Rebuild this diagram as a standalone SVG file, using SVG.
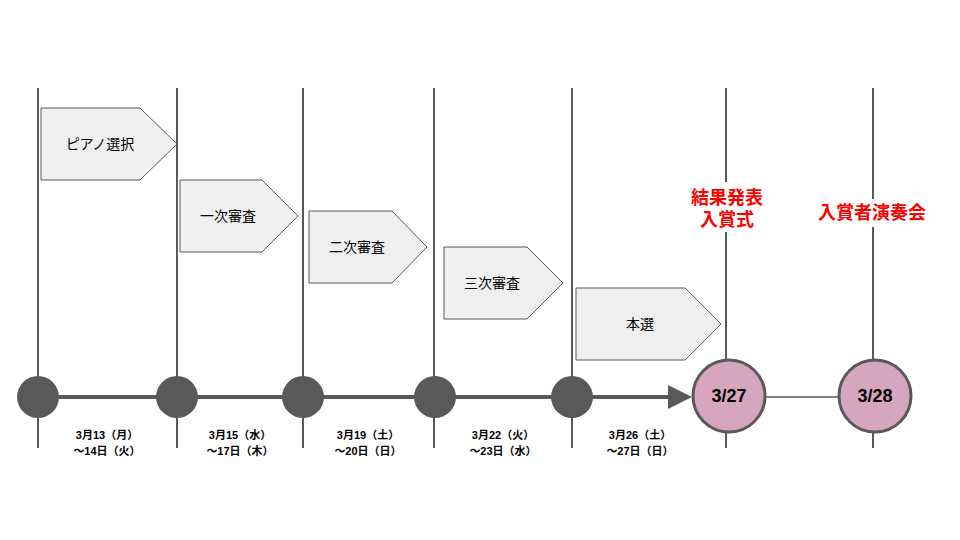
<svg xmlns="http://www.w3.org/2000/svg" width="960" height="540" viewBox="0 0 960 540">
<defs>
<style>
.vl{stroke:#595959;stroke-width:2;fill:none}
.pent{fill:#efefef;stroke:#595959;stroke-width:1}
.pt{font-family:"Liberation Sans","Noto Sans CJK JP",sans-serif;font-size:14px;fill:#000;text-anchor:middle}
.dot{fill:#595959}
.pink{fill:#d5a6bd;stroke:#595959;stroke-width:3}
.ct{font-family:"Liberation Sans","Noto Sans CJK JP",sans-serif;font-size:18px;font-weight:bold;fill:#000;text-anchor:middle}
.dt{font-family:"Liberation Sans","Noto Sans CJK JP",sans-serif;font-size:11px;font-weight:bold;fill:#000;text-anchor:middle}
.rt{font-family:"Liberation Sans","Noto Sans CJK JP",sans-serif;font-size:18px;font-weight:bold;fill:#ff0000;text-anchor:middle}
</style>
<marker id="ah" markerWidth="6" markerHeight="6" refX="5" refY="3" orient="auto" markerUnits="strokeWidth">
<path d="M0,0 L6,3 L0,6 z" fill="#595959"/>
</marker>
</defs>
<rect width="960" height="540" fill="#fff"/>
<g id="connectors">
<line class="vl" x1="38" y1="88" x2="38" y2="448"/>
<line class="vl" x1="177" y1="88" x2="177" y2="448"/>
<line class="vl" x1="303" y1="88" x2="303" y2="448"/>
<line class="vl" x1="434" y1="88" x2="434" y2="448"/>
<line class="vl" x1="572" y1="88" x2="572" y2="448"/>
<line class="vl" x1="726" y1="88" x2="726" y2="448"/>
<line class="vl" x1="873" y1="88" x2="873" y2="448"/>
<line x1="38" y1="397" x2="688" y2="397" stroke="#595959" stroke-width="4" marker-end="url(#ah)"/>
<line x1="760" y1="397" x2="840" y2="397" stroke="#595959" stroke-width="1.5"/>
</g>
<g id="phase1"><polygon class="pent" points="41,108 140,108 177,144 140,180 41,180"/><text class="pt" x="100" y="149">ピアノ選択</text></g>
<g id="phase2"><polygon class="pent" points="180,180 262,180 298,216 262,252 180,252"/><text class="pt" x="228" y="221">一次審査</text></g>
<g id="phase3"><polygon class="pent" points="309,211 392,211 427,247 392,283 309,283"/><text class="pt" x="357" y="252">二次審査</text></g>
<g id="phase4"><polygon class="pent" points="444,247 527,247 563,283 527,319 444,319"/><text class="pt" x="492" y="288">三次審査</text></g>
<g id="phase5"><polygon class="pent" points="576,288 685,288 721,324 685,360 576,360"/><text class="pt" x="640" y="329">本選</text></g>
<g id="n1"><circle class="dot" cx="38" cy="397" r="21"/></g>
<g id="n2"><circle class="dot" cx="177" cy="397" r="21"/></g>
<g id="n3"><circle class="dot" cx="303" cy="397" r="21"/></g>
<g id="n4"><circle class="dot" cx="435" cy="397" r="21"/></g>
<g id="n5"><circle class="dot" cx="572" cy="397" r="21"/></g>
<g id="n6"><circle class="pink" cx="729" cy="396" r="36"/><text class="ct" x="729" y="402">3/27</text></g>
<g id="n7"><circle class="pink" cx="875" cy="396" r="36"/><text class="ct" x="875" y="402">3/28</text></g>
<g id="dates">
<text class="dt" x="107" y="439">3月13（月）</text><text class="dt" x="107" y="455">～14日（火）</text>
<text class="dt" x="240" y="439">3月15（水）</text><text class="dt" x="240" y="455">～17日（木）</text>
<text class="dt" x="368" y="439">3月19（土）</text><text class="dt" x="368" y="455">～20日（日）</text>
<text class="dt" x="503" y="439">3月22（火）</text><text class="dt" x="503" y="455">～23日（水）</text>
<text class="dt" x="640" y="439">3月26（土）</text><text class="dt" x="640" y="455">～27日（日）</text>
</g>
<g id="label1"><rect x="684" y="182" width="86" height="50" fill="#fff"/><text class="rt" x="727" y="204">結果発表</text><text class="rt" x="727" y="226">入賞式</text></g>
<g id="label2"><rect x="812" y="199" width="122" height="28" fill="#fff"/><text class="rt" x="872" y="219">入賞者演奏会</text></g>
</svg>
